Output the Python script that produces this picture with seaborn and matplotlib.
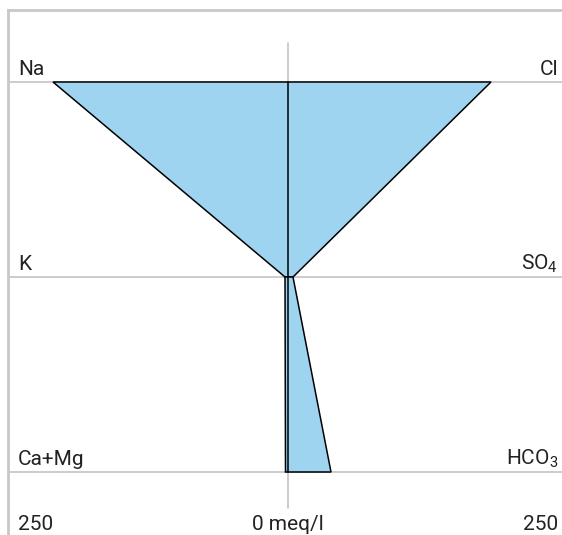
import numpy as np
import pandas as pd
import matplotlib
matplotlib.use("Agg")
import matplotlib.pyplot as plt
from matplotlib import font_manager
import seaborn as sns

# Stiff diagram values (meq/l)
cations = ["Na", "K", "Ca+Mg"]
anions = ["Cl", "SO$_4$", "HCO$_3$"]
cation_meq = [235, 3, 2.5]
anion_meq = [203, 5, 43]
scale_max = 250

sns.set_style("white")
installed = {f.name for f in font_manager.fontManager.ttflist}
family = "Liberation Sans Narrow" if "Liberation Sans Narrow" in installed else "Roboto"
plt.rcParams["font.family"] = [family, "DejaVu Sans"]
plt.rcParams["mathtext.fontset"] = "custom"
plt.rcParams["mathtext.rm"] = family
plt.rcParams["mathtext.it"] = family

df = pd.DataFrame({"row": range(len(cations)), "cation": cations, "anion": anions,
                   "left": -np.array(cation_meq, dtype=float),
                   "right": np.array(anion_meq, dtype=float)})

fig = plt.figure(figsize=(5.62, 5.35), dpi=100)
ax = fig.add_axes([8 / 562, -25 / 535, 560 / 562, 550 / 535])
ax.set_xlim(-280, 280)
ax.set_ylim(2.4513, -0.3692)

grid_col = "#c4c4c4"
for r in df.row:
    ax.axhline(r, color=grid_col, lw=1.2, zorder=1)
ax.plot([0, 0], [-0.2, 2.185], color=grid_col, lw=1.2, zorder=1)

# one trapezoid between each pair of rows
fill_col = "#9fd4f0"
for i in range(len(df) - 1):
    a, b = df.iloc[i], df.iloc[i + 1]
    xs = [a.left, a.right, b.right, b.left]
    ys = [a.row, a.row, b.row, b.row]
    ax.fill(xs, ys, facecolor=fill_col, edgecolor="black", lw=1.1, zorder=2)

zero = pd.DataFrame({"x": [0, 0], "y": [df.row.min(), df.row.max()]})
sns.lineplot(data=zero, x="x", y="y", sort=False, estimator=None, color="black",
             lw=1.1, ax=ax, zorder=3)

fs = 15
for r, c, an in zip(df.row, df.cation, df.anion):
    ax.text(-270, r - 0.035, c, ha="left", va="baseline", fontsize=fs, color="#222222")
    ax.text(270, r - 0.035, an, ha="right", va="baseline", fontsize=fs, color="#222222")

ax.text(-270, 2.30, str(scale_max), ha="left", va="baseline", fontsize=fs, color="#222222")
ax.text(0, 2.30, "0 meq/l", ha="center", va="baseline", fontsize=fs, color="#222222")
ax.text(270, 2.30, str(scale_max), ha="right", va="baseline", fontsize=fs, color="#222222")

ax.set_xticks([])
ax.set_yticks([])
ax.set_xlabel("")
ax.set_ylabel("")
for s in ax.spines.values():
    s.set_color("#c8c8c8")
    s.set_linewidth(2)

fig.savefig("out.png", dpi=100)
